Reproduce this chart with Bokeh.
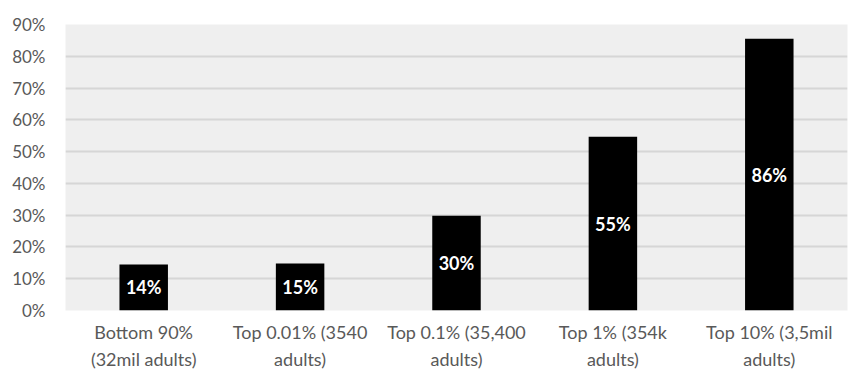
from bokeh.plotting import figure
from bokeh.models import ColumnDataSource, FactorRange, Range1d, FixedTicker, NumeralTickFormatter
from bokeh.core.properties import value
from bokeh.embed import file_html
from bokeh.resources import INLINE

categories = ["Bottom 90%\n(32mil adults)", "Top 0.01% (3540\nadults)", "Top 0.1% (35,400\nadults)",
              "Top 1% (354k\nadults)", "Top 10% (3,5mil\nadults)"]
shares = [0.145, 0.148, 0.298, 0.547, 0.855]
bar_labels = ["14%", "15%", "30%", "55%", "86%"]
y_ticks = [0.0, 0.1, 0.2, 0.3, 0.4, 0.5, 0.6, 0.7, 0.8, 0.9]

FONT = "Lato"
GRAY = "#595959"

src = ColumnDataSource(dict(cat=categories, top=shares, mid=[s / 2 for s in shares], lab=bar_labels))

p = figure(x_range=FactorRange(factors=categories), y_range=Range1d(0, 0.9),
           width=851, height=373, output_backend="svg", toolbar_location=None,
           min_border_left=65, min_border_right=4, min_border_top=24, min_border_bottom=58)
p.background_fill_color = "#efefef"
p.border_fill_color = "white"
p.outline_line_color = None

p.vbar(x="cat", top="top", width=0.31, source=src, fill_color="black", line_color=None)
p.text(x="cat", y="mid", text="lab", source=src, text_color="white", text_font=value(FONT),
       text_font_style="bold", text_font_size="18px", text_align="center", text_baseline="middle")

p.xgrid.grid_line_color = None
p.ygrid.grid_line_color = "#d6d6d6"
p.ygrid.grid_line_width = 2
p.ygrid.ticker = FixedTicker(ticks=y_ticks)
p.yaxis.ticker = FixedTicker(ticks=y_ticks)
p.yaxis.formatter = NumeralTickFormatter(format="0%")

for ax in (p.xaxis[0], p.yaxis[0]):
    ax.axis_line_color = None
    ax.major_tick_line_color = None
    ax.minor_tick_line_color = None
    ax.major_tick_out = 0
    ax.major_tick_in = 0
    ax.major_label_text_font = FONT
    ax.major_label_text_color = GRAY

p.yaxis.major_label_text_font_size = "17px"
p.xaxis.major_label_text_font_size = "18px"
p.yaxis.major_label_standoff = 20
p.xaxis.major_label_standoff = 10
p.xaxis.major_label_text_line_height = 1.25

open("out.html", "w").write(file_html(p, INLINE))
